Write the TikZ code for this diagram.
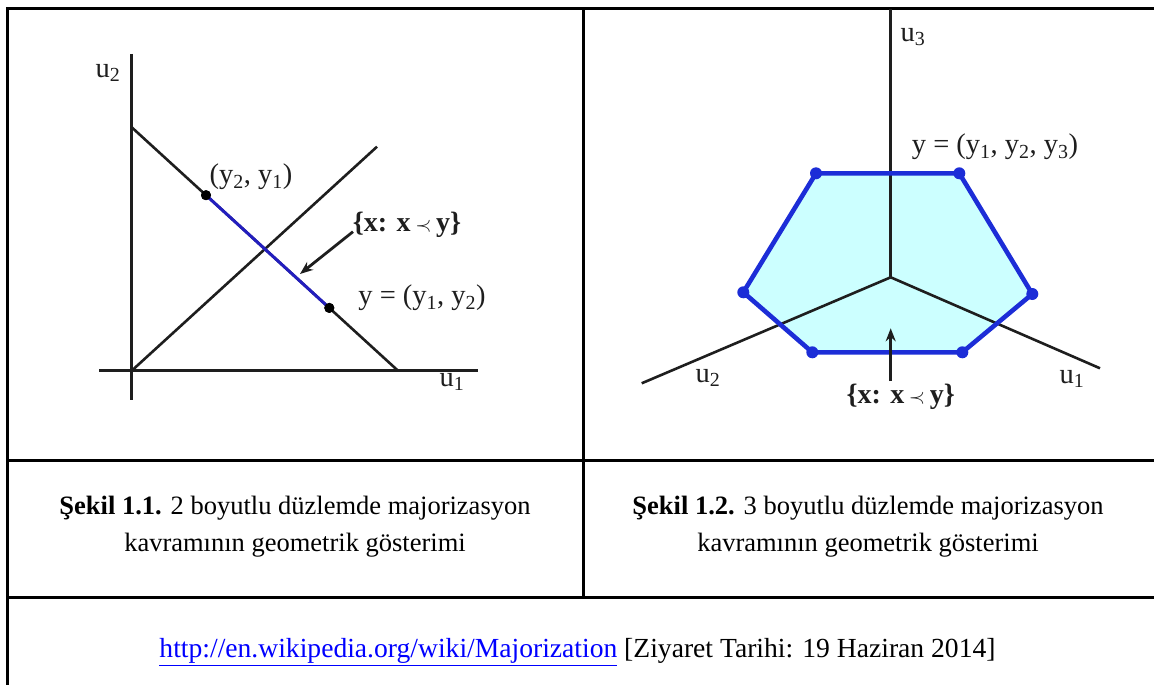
\documentclass[tikz,border=0pt]{standalone}
\usepackage{fontspec}
\setmainfont{Liberation Serif}
\usetikzlibrary{arrows.meta}
\definecolor{hexblue}{RGB}{28,45,215}
\definecolor{hexfill}{RGB}{204,255,255}
\definecolor{segblue}{RGB}{35,30,190}
\definecolor{urlblue}{RGB}{0,0,255}
\definecolor{ink}{RGB}{30,30,30}
\newcommand{\precsym}{{\fontsize{21}{21}\selectfont$\prec$}}
\begin{document}
\begin{tikzpicture}[x=1pt,y=-1pt,
  tableline/.style={line width=3pt, line cap=rect},
  axis/.style={line width=2.6pt, draw=ink},
  lbl/.style={font=\fontsize{28.5}{32}\selectfont, text=ink, inner sep=0pt},
  blbl/.style={font=\fontsize{28}{32}\selectfont\bfseries, text=ink, inner sep=0pt},
  captext/.style={font=\fontsize{26.5}{37}\selectfont, align=center, inner sep=0pt},
  bdot/.style={circle, fill=black, inner sep=0pt, minimum size=10pt},
  hdot/.style={circle, fill=hexblue, inner sep=0pt, minimum size=12pt},
  pointer/.style={line width=2.8pt, draw=ink, -{Stealth[length=13pt,width=10pt]}}]
\useasboundingbox (0,0) rectangle (1154,685);

% table
\coordinate (tl) at (7,9);
\coordinate (tr) at (1154,9);
\coordinate (bl) at (7,685);
\coordinate (m1l) at (7,460);
\coordinate (m1r) at (1154,460);
\coordinate (m2l) at (7,597);
\coordinate (m2r) at (1154,597);
\coordinate (dvt) at (583,9);
\coordinate (dvb) at (583,597);
\draw[tableline] (bl) -- (tl) -- (tr);
\draw[tableline] (m1l) -- (m1r);
\draw[tableline] (m2l) -- (m2r);
\draw[tableline] (dvt) -- (dvb);

% left diagram
\coordinate (O1) at (131.7,370.7);
\coordinate (v2t) at (131.7,54);
\coordinate (v2b) at (131.7,400);
\coordinate (h1l) at (99,370.7);
\coordinate (h1r) at (478,370.7);
\coordinate (adA) at (131.7,127.3);
\coordinate (adB) at (398,370.7);
\coordinate (dgE) at (377,146.7);
\draw[axis] (v2t) -- (v2b);
\draw[axis] (h1l) -- (h1r);
\draw[axis] (adA) -- (adB);
\draw[axis] (O1) -- (dgE);
\node[bdot] (P21) at (206,195.2) {};
\node[bdot] (P12) at (329.3,307.9) {};
\draw[segblue, line width=3pt] (P21.center) -- (P12.center);
\node[bdot] at (P21) {};
\node[bdot] at (P12) {};
\node[lbl] (l21) at (251,177) {(y\textsubscript{2}, y\textsubscript{1})};
\node[blbl] (lset1) at (407,225) {\{x: x\,\precsym\,y\}};
\coordinate (arr1s) at (353,231.7);
\coordinate (arr1e) at (300,274);
\draw[pointer] (arr1s) -- (arr1e);
\node[lbl] (l12) at (422,298) {y = (y\textsubscript{1}, y\textsubscript{2})};
\node[lbl] (lu1) at (452,382) {u\textsubscript{1}};
\node[lbl] (lu2) at (108,73) {u\textsubscript{2}};

% right diagram
\coordinate (O2) at (890.7,277.3);
\coordinate (u3t) at (890.7,9);
\coordinate (u2e) at (641.7,383.3);
\coordinate (u1e) at (1100,368.3);
\coordinate (H1) at (816,173.3);
\coordinate (H2) at (959.3,173.3);
\coordinate (H3) at (1032.3,294);
\coordinate (H4) at (962.3,352.3);
\coordinate (H5) at (812.3,352.3);
\coordinate (H6) at (743.3,292.3);
\fill[hexfill] (H1) -- (H2) -- (H3) -- (H4) -- (H5) -- (H6) -- cycle;
\draw[axis] (u3t) -- (O2);
\draw[axis] (O2) -- (u2e);
\draw[axis] (O2) -- (u1e);
\draw[hexblue, line width=4.6pt, line join=round] (H1) -- (H2) -- (H3) -- (H4) -- (H5) -- (H6) -- cycle;
\foreach \h in {H1,H2,H3,H4,H5,H6} \node[hdot] at (\h) {};
\coordinate (arr2s) at (890.7,381);
\coordinate (arr2e) at (890.7,328.3);
\draw[pointer, line width=3.2pt] (arr2s) -- (arr2e);
\node[blbl] (lset2) at (900.7,397) {\{x: x\,\precsym\,y\}};
\node[lbl] (ru2) at (708,378) {u\textsubscript{2}};
\node[lbl] (ru1) at (1072,379) {u\textsubscript{1}};
\node[lbl] (ru3) at (913,37) {u\textsubscript{3}};
\node[lbl] (ry) at (995,147) {y = (y\textsubscript{1}, y\textsubscript{2}, y\textsubscript{3})};

% captions
\node[captext] (cap1) at (295,527) {\textbf{Şekil 1.1.} 2 boyutlu düzlemde majorizasyon\\kavramının geometrik gösterimi};
\node[captext] (cap2) at (868,527) {\textbf{Şekil 1.2.} 3 boyutlu düzlemde majorizasyon\\kavramının geometrik gösterimi};
\node[captext, font=\fontsize{27.6}{37}\selectfont] (src) at (577.5,652) {{\color{urlblue}\underline{http://en.wikipedia.org/wiki/Majorization}} [Ziyaret Tarihi: 19 Haziran 2014]};
\end{tikzpicture}
\end{document}
